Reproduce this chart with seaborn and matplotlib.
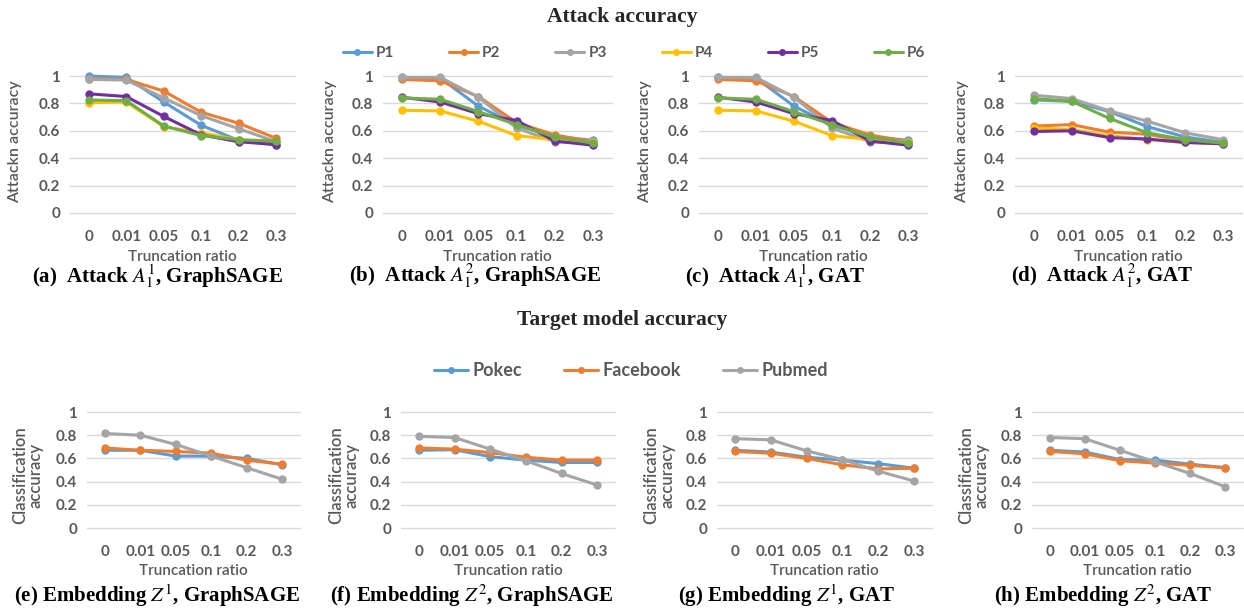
import matplotlib
matplotlib.use("Agg")
import matplotlib.pyplot as plt
from matplotlib.lines import Line2D
import seaborn as sns
import pandas as pd

# ---------------- data ----------------
x_labels = ["0", "0.01", "0.05", "0.1", "0.2", "0.3"]
attack_series = ["P1", "P2", "P3", "P4", "P5", "P6"]
target_series = ["Pokec", "Facebook", "Pubmed"]

attack_a = {
    "P1": [1.00, 0.99, 0.81, 0.64, 0.53, 0.495],
    "P2": [0.98, 0.975, 0.89, 0.735, 0.655, 0.545],
    "P3": [0.975, 0.97, 0.84, 0.71, 0.615, 0.52],
    "P4": [0.805, 0.81, 0.63, 0.585, 0.535, 0.515],
    "P5": [0.87, 0.85, 0.705, 0.57, 0.52, 0.50],
    "P6": [0.825, 0.82, 0.635, 0.565, 0.535, 0.525],
}
attack_b = {
    "P1": [0.99, 0.985, 0.78, 0.64, 0.56, 0.53],
    "P2": [0.975, 0.965, 0.85, 0.66, 0.57, 0.52],
    "P3": [0.99, 0.99, 0.845, 0.62, 0.52, 0.51],
    "P4": [0.75, 0.745, 0.67, 0.565, 0.535, 0.515],
    "P5": [0.845, 0.81, 0.725, 0.675, 0.525, 0.495],
    "P6": [0.84, 0.83, 0.74, 0.645, 0.555, 0.51],
}
attack_c = {
    "P1": [0.99, 0.985, 0.78, 0.64, 0.56, 0.53],
    "P2": [0.975, 0.965, 0.85, 0.66, 0.57, 0.52],
    "P3": [0.99, 0.99, 0.845, 0.62, 0.52, 0.51],
    "P4": [0.75, 0.745, 0.67, 0.565, 0.535, 0.515],
    "P5": [0.845, 0.81, 0.725, 0.675, 0.525, 0.495],
    "P6": [0.84, 0.83, 0.74, 0.645, 0.555, 0.51],
}
attack_d = {
    "P1": [0.825, 0.815, 0.74, 0.63, 0.555, 0.515],
    "P2": [0.635, 0.645, 0.59, 0.575, 0.525, 0.51],
    "P3": [0.86, 0.835, 0.745, 0.67, 0.585, 0.535],
    "P4": [0.62, 0.61, 0.565, 0.535, 0.515, 0.505],
    "P5": [0.595, 0.60, 0.55, 0.54, 0.515, 0.505],
    "P6": [0.835, 0.815, 0.69, 0.585, 0.535, 0.51],
}
target_e = {
    "Pokec": [0.67, 0.67, 0.62, 0.62, 0.60, 0.545],
    "Facebook": [0.69, 0.67, 0.66, 0.645, 0.585, 0.55],
    "Pubmed": [0.815, 0.80, 0.72, 0.62, 0.52, 0.42],
}
target_f = {
    "Pokec": [0.67, 0.675, 0.615, 0.585, 0.565, 0.565],
    "Facebook": [0.69, 0.68, 0.65, 0.61, 0.585, 0.585],
    "Pubmed": [0.79, 0.78, 0.68, 0.58, 0.47, 0.37],
}
target_g = {
    "Pokec": [0.67, 0.655, 0.61, 0.585, 0.555, 0.515],
    "Facebook": [0.66, 0.645, 0.60, 0.545, 0.51, 0.515],
    "Pubmed": [0.77, 0.76, 0.665, 0.59, 0.49, 0.405],
}
target_h = {
    "Pokec": [0.67, 0.655, 0.59, 0.585, 0.55, 0.52],
    "Facebook": [0.66, 0.64, 0.58, 0.56, 0.54, 0.52],
    "Pubmed": [0.78, 0.77, 0.67, 0.57, 0.47, 0.355],
}
y_ticks = [0, 0.2, 0.4, 0.6, 0.8, 1]
y_tick_labels = ["0", "0.2", "0.4", "0.6", "0.8", "1"]

attack_colors = {"P1": "#5B9BD5", "P2": "#ED7D31", "P3": "#A5A5A5",
                 "P4": "#FFC000", "P5": "#7030A0", "P6": "#70AD47"}
target_colors = {"Pokec": "#5B9BD5", "Facebook": "#ED7D31", "Pubmed": "#A5A5A5"}

# ---------------- style ----------------
sns.set_theme(style="white")
plt.rcParams["font.family"] = ["Lato", "DejaVu Sans"]
plt.rcParams["mathtext.fontset"] = "stix"

W, H = 1244, 609
fig = plt.figure(figsize=(W / 100, H / 100), dpi=100)
fig.patch.set_facecolor("white")
GRAY = "#595959"
SERIF = ["Liberation Serif", "DejaVu Serif"]


def add_ax(x0, x1, ytop, ybot):
    return fig.add_axes([x0 / W, 1 - ybot / H, (x1 - x0) / W, (ybot - ytop) / H])


def draw(ax, data, series, colors, xlab_y_px, ybot, ytop):
    rows = []
    for s in series:
        for i, v in enumerate(data[s]):
            rows.append({"pos": i, "acc": v, "series": s})
    df = pd.DataFrame(rows)
    ax.set_axisbelow(True)
    for y in y_ticks:
        ax.axhline(y, color="#D9D9D9", lw=1.0, zorder=0)
    sns.lineplot(data=df, x="pos", y="acc", hue="series", hue_order=series,
                 palette=colors, marker="o", markersize=6, markeredgewidth=0,
                 linewidth=2.2, legend=False, ax=ax, sort=False, zorder=3)
    for ln in ax.lines:
        ln.set_clip_on(False)
    ax.set_xlim(-0.5, 5.5)
    ax.set_ylim(0, 1)
    ax.set_xticks(range(len(x_labels)))
    ax.set_xticklabels(x_labels)
    ax.set_yticks(y_ticks)
    ax.set_yticklabels(y_tick_labels)
    ax.tick_params(axis="both", length=0, labelsize=11, colors=GRAY)
    ax.tick_params(axis="x", pad=12)
    ax.tick_params(axis="y", pad=7)
    for lab in ax.get_xticklabels() + ax.get_yticklabels():
        lab.set_fontweight("bold")
    for sp in ax.spines.values():
        sp.set_visible(False)
    ax.set_xlabel("Truncation ratio", fontsize=11, color=GRAY, fontweight="semibold")
    axh = ybot - ytop
    ax.xaxis.set_label_coords(0.5, -(xlab_y_px - ybot) / axh)
    ax.set_ylabel("")


# top row
top_ytop, top_ybot = 76, 213
top_boxes = [(70, 295), (383, 612), (699, 927), (1015, 1242)]
top_data = [attack_a, attack_b, attack_c, attack_d]
top_ylab_x = [15, 330, 645, 962]
top_caps = [r"(a)  Attack $A_1^1$, GraphSAGE", r"(b)  Attack $A_1^2$, GraphSAGE",
            r"(c)  Attack $A_1^1$, GAT", r"(d)  Attack $A_1^2$, GAT"]
top_cap_x = [157, 475, 775, 1102]
for (x0, x1), d, yx, cap, cx in zip(top_boxes, top_data, top_ylab_x, top_caps, top_cap_x):
    ax = add_ax(x0, x1, top_ytop, top_ybot)
    draw(ax, d, attack_series, attack_colors, 250, top_ybot, top_ytop)
    fig.text(yx / W, 1 - 142 / H, "Attackn accuracy", rotation=90, ha="center",
             va="center", fontsize=11.5, color=GRAY, fontweight="semibold")
    fig.text(cx / W, 1 - 276 / H, cap, ha="center", va="center", fontsize=15,
             fontweight="bold", family=SERIF, color="black")

# bottom row
bot_ytop, bot_ybot = 412, 528
bot_boxes = [(87, 300), (401, 615), (717, 932), (1032, 1243)]
bot_data = [target_e, target_f, target_g, target_h]
bot_ylab_x = [28, 344, 659, 974]
bot_caps = [r"(e) Embedding $Z^1$, GraphSAGE", r"(f) Embedding $Z^2$, GraphSAGE",
            r"(g) Embedding $Z^1$, GAT", r"(h) Embedding $Z^2$, GAT"]
bot_cap_x = [157, 472, 787, 1103]
for (x0, x1), d, yx, cap, cx in zip(bot_boxes, bot_data, bot_ylab_x, bot_caps, bot_cap_x):
    ax = add_ax(x0, x1, bot_ytop, bot_ybot)
    draw(ax, d, target_series, target_colors, 564, bot_ybot, bot_ytop)
    fig.text(yx / W, 1 - 475 / H, "Classification\naccuracy", rotation=90,
             ha="center", va="center", fontsize=12, color=GRAY, linespacing=1.0,
             fontweight="semibold")
    fig.text(cx / W, 1 - 596 / H, cap, ha="center", va="center", fontsize=15,
             fontweight="bold", family=SERIF, color="black")

# titles
fig.text(622 / W, 1 - 17 / H, "Attack accuracy", ha="center", va="center",
         fontsize=15.5, fontweight="bold", family=SERIF)
fig.text(622 / W, 1 - 320 / H, "Target model accuracy", ha="center", va="center",
         fontsize=15.5, fontweight="bold", family=SERIF)

# legends
h_top = [Line2D([], [], color=attack_colors[s], marker="o", markersize=5,
                markeredgewidth=0, lw=2.2) for s in attack_series]
leg = fig.legend(h_top, attack_series, ncol=6, loc="center",
                 bbox_to_anchor=(634 / W, 1 - 53 / H), frameon=False,
                 fontsize=11, handlelength=1.9, handletextpad=0.25,
                 columnspacing=3.6)
for t in leg.get_texts():
    t.set_color(GRAY)
    t.set_fontweight("bold")

h_bot = [Line2D([], [], color=target_colors[s], marker="o", markersize=5,
                markeredgewidth=0, lw=2.2) for s in target_series]
leg2 = fig.legend(h_bot, target_series, ncol=3, loc="center",
                  bbox_to_anchor=(631 / W, 1 - 371 / H), frameon=False,
                  fontsize=13, handlelength=1.9, handletextpad=0.25,
                  columnspacing=2.3)
for t in leg2.get_texts():
    t.set_color(GRAY)
    t.set_fontweight("bold")

fig.savefig("out.png", dpi=100, facecolor="white")
